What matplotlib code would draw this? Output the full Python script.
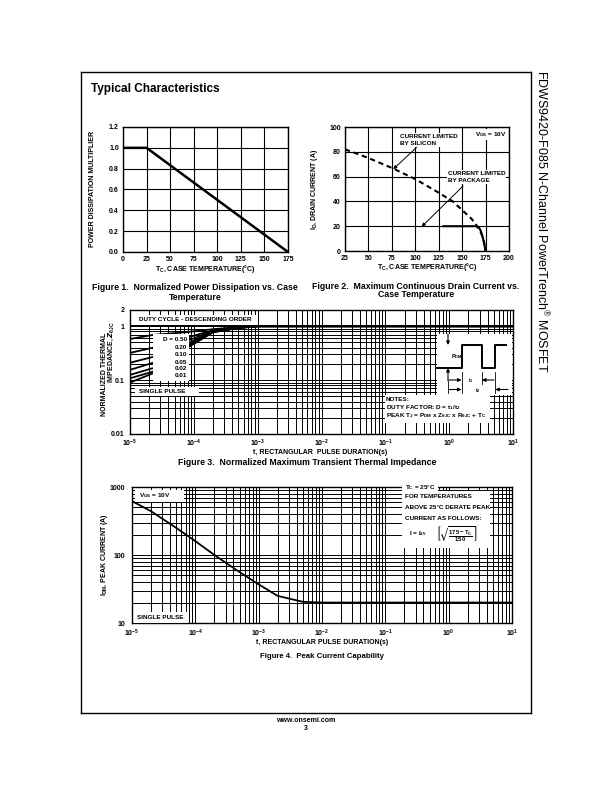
import matplotlib
matplotlib.use('Agg')
import matplotlib.pyplot as plt
from matplotlib.patches import Rectangle, FancyArrowPatch
from matplotlib.lines import Line2D
from matplotlib.ticker import LogLocator, NullFormatter

plt.rcParams['font.family'] = ['Liberation Sans', 'DejaVu Sans']
plt.rcParams['font.weight'] = 'bold'
plt.rcParams['mathtext.default'] = 'regular'

W, H = 612, 792

# Figure 1 - power dissipation multiplier
temp1 = [0, 25, 175]
mult1 = [1.0, 1.0, 0.0]

# Figure 2 - drain current vs case temperature
temp_si = [25, 50, 75, 100, 125, 140, 150, 160, 165, 170, 173, 175]
id_si = [82, 75, 67, 58, 47, 40, 33, 26, 21, 15, 9, 0]
temp_pkg = [130, 165, 168, 170, 172, 173.5, 175]
id_pkg = [20, 20, 19, 16, 11, 6, 0]

# Figure 3 - transient thermal impedance
t3 = [1e-5, 2.3e-5, 8e-5, 2e-4, 5e-4, 1e-3, 1e1]
z_d50 = [0.58, 0.69, 0.78, 0.88, 0.97, 1.0, 1.0]
z_d20 = [0.32, 0.40, 0.62, 0.84, 0.95, 1.0, 1.0]
z_d10 = [0.21, 0.27, 0.54, 0.82, 0.94, 1.0, 1.0]
z_d05 = [0.155, 0.21, 0.48, 0.80, 0.94, 1.0, 1.0]
z_d02 = [0.125, 0.167, 0.44, 0.79, 0.93, 1.0, 1.0]
z_d01 = [0.108, 0.144, 0.42, 0.78, 0.93, 1.0, 1.0]
z_single = [0.09, 0.134, 0.40, 0.77, 0.93, 1.0, 1.0]
duty_labels = ['D = 0.50', '0.20', '0.10', '0.05', '0.02', '0.01']

# Figure 4 - peak current capability
t4 = [1e-5, 2e-5, 5e-5, 1e-4, 2e-4, 5e-4, 1e-3, 2e-3, 5e-3, 1e-2, 1e1]
idm = [620, 440, 250, 160, 100, 56, 37, 25, 20.5, 20, 20]

log_ticks = [1e-5, 1e-4, 1e-3, 1e-2, 1e-1, 1e0, 1e1]
log_labels = ['$10^{-5}$', '$10^{-4}$', '$10^{-3}$', '$10^{-2}$',
              '$10^{-1}$', '$10^{0}$', '$10^{1}$']


def fx(x):
    return x / W


def fy(y):
    return 1 - y / H


def box(x0, y0, x1, y1):
    return [fx(x0), fy(y1), (x1 - x0) / W, (y1 - y0) / H]


fig = plt.figure(figsize=(W / 100, H / 100), dpi=100)


def ptext(x, y, s, size=4.6, ha='center', va='center', **kw):
    fig.text(fx(x), fy(y), s, fontsize=size, ha=ha, va=va, zorder=10, **kw)


def pline(xs, ys, lw=1.0):
    fig.add_artist(Line2D([fx(v) for v in xs], [fy(v) for v in ys],
                          transform=fig.transFigure, color='black', lw=lw,
                          zorder=8))


def prect(x0, y0, x1, y1):
    fig.add_artist(Rectangle((fx(x0), fy(y1)), (x1 - x0) / W, (y1 - y0) / H,
                             transform=fig.transFigure, facecolor='white',
                             edgecolor='none', zorder=6))


def parrow(x0, y0, x1, y1):
    fig.add_artist(FancyArrowPatch((fx(x0), fy(y0)), (fx(x1), fy(y1)),
                                   transform=fig.transFigure, arrowstyle='-|>',
                                   mutation_scale=5, lw=0.8, color='black',
                                   shrinkA=0, shrinkB=0, zorder=8))


def style(ax, xpad=3, ypad=3):
    for s in ax.spines.values():
        s.set_linewidth(1.0)
    ax.tick_params(which='both', length=0, labelsize=5)
    ax.tick_params(axis='x', pad=xpad)
    ax.tick_params(axis='y', pad=ypad)


# page frame
pline([81, 81], [72, 713], lw=1.0)
pline([81, 531], [72, 72], lw=1.0)
pline([531, 531], [72, 713], lw=1.0)
pline([81, 531], [713, 713], lw=1.0)
fig.text(fx(533), fy(70), 'FDWS9420-F085 N-Channel PowerTrench$^{®}$ MOSFET',
         rotation=-90, fontsize=9, fontweight='normal', ha='left', va='top')
ptext(91, 89, 'Typical Characteristics', size=8.5, ha='left')
ptext(306, 721, 'www.onsemi.com', size=5)
ptext(306, 729, '3', size=5)

# ---- Figure 1
ax1 = fig.add_axes(box(123, 127, 288, 252))
ax1.plot(temp1, mult1, color='black', lw=1.8, zorder=3)
ax1.set_xlim(0, 175)
ax1.set_ylim(0, 1.2)
ax1.set_xticks(range(0, 176, 25))
ax1.set_yticks([0, 0.2, 0.4, 0.6, 0.8, 1.0, 1.2])
ax1.set_yticklabels(['0.0', '0.2', '0.4', '0.6', '0.8', '1.0', '1.2'])
ax1.grid(True, color='black', lw=0.8)
style(ax1)
ptext(93, 189, 'POWER DISSIPATION MULTIPLIER', size=5, rotation=90)
ptext(205, 269, 'T$_C$, CASE TEMPERATURE(\u00b0C)', size=5)
ptext(195, 288, 'Figure 1.  Normalized Power Dissipation vs. Case', size=6.3)
ptext(195, 297, 'Temperature', size=6.3)

# ---- Figure 2
ax2 = fig.add_axes(box(345, 127, 509, 251))
ax2.plot(temp_si, id_si, color='black', lw=1.5, ls=(0, (2.5, 1.8)), zorder=3)
ax2.plot(temp_pkg, id_pkg, color='black', lw=1.5, zorder=3)
ax2.set_xlim(25, 200)
ax2.set_ylim(0, 100)
ax2.set_xticks(range(25, 201, 25))
ax2.set_yticks(range(0, 101, 20))
ax2.grid(True, color='black', lw=0.8)
style(ax2)
bb = dict(facecolor='white', edgecolor='none', pad=0.5)
ax2.text(84, 94.5, 'CURRENT LIMITED\nBY SILICON', fontsize=4.6, va='top',
         linespacing=1.5, bbox=bb, zorder=5)
ax2.text(134.5, 64.5, 'CURRENT LIMITED\nBY PACKAGE', fontsize=4.6, va='top',
         linespacing=1.5, bbox=bb, zorder=5)
ax2.text(164, 94, 'V$_{GS}$ = 10V', fontsize=4.6, va='center', bbox=bb,
         zorder=5)
ax2.annotate('', xy=(76.5, 66), xytext=(101.5, 83.6),
             arrowprops=dict(arrowstyle='-|>', color='black', lw=0.7,
                             mutation_scale=5, shrinkA=0, shrinkB=0))
ax2.annotate('', xy=(106.8, 19.6), xytext=(151, 52.4),
             arrowprops=dict(arrowstyle='-|>', color='black', lw=0.7,
                             mutation_scale=5, shrinkA=0, shrinkB=0))
ptext(315, 189, 'I$_D$, DRAIN CURRENT (A)', size=5, rotation=90)
ptext(427, 267, 'T$_C$, CASE TEMPERATURE(\u00b0C)', size=5)
ptext(416, 286, 'Figure 2.  Maximum Continuous Drain Current vs.', size=6.3)
ptext(416, 295, 'Case Temperature', size=6.3)

# ---- Figure 3
ax3 = fig.add_axes(box(130, 310, 513, 434))
for z in [z_d50, z_d20, z_d10, z_d05, z_d02, z_d01, z_single]:
    ax3.plot(t3, z, color='black', lw=1.3, zorder=3)
ax3.set_xscale('log')
ax3.set_yscale('log')
ax3.set_xlim(1e-5, 1e1)
ax3.set_ylim(0.01, 2)
ax3.set_xticks(log_ticks)
ax3.set_xticklabels(log_labels)
ax3.set_yticks([0.01, 0.1, 1, 2])
ax3.set_yticklabels(['0.01', '0.1', '1', '2'])
ax3.xaxis.set_minor_locator(LogLocator(base=10, subs=range(2, 10), numticks=20))
ax3.yaxis.set_minor_locator(LogLocator(base=10, subs=range(2, 10), numticks=20))
ax3.xaxis.set_minor_formatter(NullFormatter())
ax3.yaxis.set_minor_formatter(NullFormatter())
ax3.grid(True, which='both', color='black', lw=0.7)
ax3.axhline(1, color='black', lw=1.4, zorder=2)
style(ax3, xpad=2.5, ypad=4)

prect(135, 315, 257, 324.5)
ptext(139, 319.8, 'DUTY CYCLE - DESCENDING ORDER', ha='left')
prect(153, 334, 188.5, 381)
for lab, yy in zip(duty_labels, [339.3, 347.2, 354.8, 362.0, 369.0, 376.0]):
    ptext(187, yy, lab, ha='right')
prect(135, 387, 198.5, 396)
ptext(139, 391.5, 'SINGLE PULSE', ha='left')

# pulse diagram + notes
prect(437, 334, 512, 395)
prect(385, 395, 490, 423)
pline([437, 461.7, 461.7, 481.7, 481.7, 495, 495, 506],
      [368, 368, 345, 345, 368, 368, 345, 345], lw=1.4)
parrow(448, 334, 448, 345)
parrow(448, 381, 448, 368)
pline([448, 448], [381, 393], lw=0.6)
pline([461.7, 461.7], [372, 393], lw=0.6)
pline([481.7, 481.7], [372, 384], lw=0.6)
pline([495, 495], [372, 393], lw=0.6)
ptext(451, 357, 'P$_{DM}$', size=4, ha='left')
parrow(449, 380, 461.5, 380)
parrow(494, 380, 482, 380)
ptext(471, 380.5, 't$_1$', size=4)
parrow(449, 389.5, 461.5, 389.5)
parrow(508, 389.5, 495.3, 389.5)
ptext(478, 390.5, 't$_2$', size=4)
ptext(386, 399.5, 'NOTES:', ha='left')
ptext(386, 407.5, 'DUTY FACTOR: D = t$_1$/t$_2$', ha='left')
ptext(386, 415.5,
      'PEAK T$_J$ = P$_{DM}$ x Z$_{\u03b8JC}$ x R$_{\u03b8JC}$ + T$_C$',
      ha='left')

ptext(104, 374, 'NORMALIZED THERMAL', size=5, rotation=90)
ptext(111.5, 352, 'IMPEDANCE, $\\mathit{Z}_{\u03b8JC}$', size=5, rotation=90)
ptext(320, 452, 't, RECTANGULAR  PULSE DURATION(s)', size=5)
ptext(307, 462, 'Figure 3.  Normalized Maximum Transient Thermal Impedance',
      size=6.3)

# ---- Figure 4
ax4 = fig.add_axes(box(132, 487, 512, 623))
ax4.plot(t4, idm, color='black', lw=1.3, zorder=3)
ax4.set_xscale('log')
ax4.set_yscale('log')
ax4.set_xlim(1e-5, 1e1)
ax4.set_ylim(10, 1000)
ax4.set_xticks(log_ticks)
ax4.set_xticklabels(log_labels)
ax4.set_yticks([10, 100, 1000])
ax4.set_yticklabels(['10', '100', '1000'])
ax4.xaxis.set_minor_locator(LogLocator(base=10, subs=range(2, 10), numticks=20))
ax4.yaxis.set_minor_locator(LogLocator(base=10, subs=range(2, 10), numticks=20))
ax4.xaxis.set_minor_formatter(NullFormatter())
ax4.yaxis.set_minor_formatter(NullFormatter())
ax4.grid(True, which='both', color='black', lw=0.7)
style(ax4, xpad=3.5, ypad=5)

prect(135, 489.5, 183.5, 501.5)
ptext(139, 495.5, 'V$_{GS}$ = 10V', ha='left')
prect(133.5, 612, 186.5, 622.5)
ptext(137, 617.3, 'SINGLE PULSE', ha='left')
prect(402, 483, 438, 492)
prect(402, 491, 490, 548)
ptext(405, 487.5, 'T$_C$ = 25\u00b0C', ha='left')
ptext(405, 497, 'FOR TEMPERATURES', ha='left')
ptext(405, 507.5, 'ABOVE 25\u00b0C DERATE PEAK', ha='left')
ptext(405, 518, 'CURRENT AS FOLLOWS:', ha='left')
ptext(409, 534, 'I = I$_{25}$', ha='left')
ptext(457, 534,
      '$\\left[\\sqrt{\\frac{175 - T_C}{150}}\\right]$', size=6)

ptext(105, 555, 'I$_{DM}$, PEAK CURRENT (A)', size=5, rotation=90)
ptext(322, 643, 't, RECTANGULAR PULSE DURATION(s)', size=5)
ptext(322, 657, 'Figure 4.  Peak Current Capability', size=5.6)

fig.savefig('out.png', dpi=100)
